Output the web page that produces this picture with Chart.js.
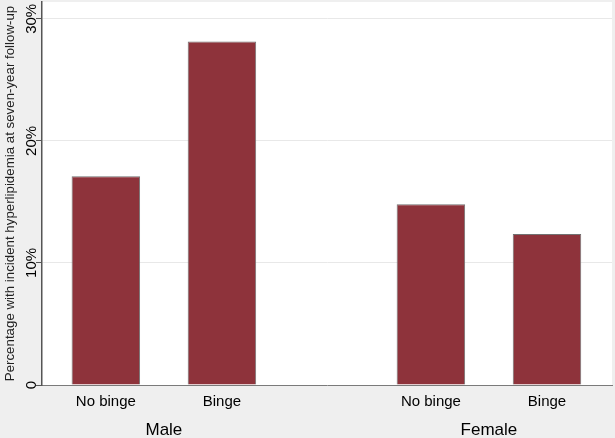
<!DOCTYPE html>
<html>
<head>
<meta charset="utf-8">
<script src="https://cdn.jsdelivr.net/npm/chart.js@4.4.1/dist/chart.umd.min.js"></script>
<style>
    html, body { margin: 0; padding: 0; background: #efefef; }
    #wrap { width: 615px; height: 438px; }
</style>
</head>
<body>
<div id="wrap"><canvas id="hyperChart" width="615" height="438"></canvas></div>
<script>
// Data
const barLabels = ['No binge', 'Binge', 'No binge', 'Binge'];
const barPositions = [1, 2, 3.8, 4.8];
const percentValues = [17.1, 28.15, 14.8, 12.37];
const groupLabels = ['Male', 'Female'];
const groupPositions = [1.5, 4.3];
const yTickValues = [0, 10, 20, 30];
const yTickLabels = ['0', '10%', '20%', '30%'];

const X_MIN = 0.45, X_MAX = 5.36;

// white plot region on a grey page, like the Stata graph
const plotBackground = {
    id: 'plotBackground',
    beforeDraw(chart) {
        const { ctx, chartArea: a } = chart;
        ctx.save();
        ctx.fillStyle = '#ffffff';
        ctx.fillRect(a.left, a.top, a.right - a.left, a.bottom - a.top);
        ctx.restore();
    }
};

const ctx = document.getElementById('hyperChart').getContext('2d');

new Chart(ctx, {
    type: 'bar',
    data: {
        datasets: [{
            data: barPositions.map((x, i) => ({ x: x, y: percentValues[i] })),
            backgroundColor: '#8e333b',
            borderColor: '#727272',
            borderWidth: 1,
            categoryPercentage: 1,
            barPercentage: 0.59
        }]
    },
    options: {
        responsive: false,
        animation: false,
        layout: { padding: { top: 2, right: 3, left: 0, bottom: 0 } },
        plugins: {
            legend: { display: false },
            tooltip: { enabled: false }
        },
        scales: {
            x: {
                type: 'linear',
                position: 'bottom',
                offset: false,
                weight: 0,
                min: X_MIN,
                max: X_MAX,
                afterBuildTicks: (scale) => { scale.ticks = barPositions.map(v => ({ value: v })); },
                afterFit: (scale) => { scale.height = 29; },
                grid: { display: false, drawTicks: false },
                border: { display: true, color: '#7a7a7a', width: 1 },
                ticks: {
                    autoSkip: false,
                    maxRotation: 0,
                    padding: 8,
                    color: '#000',
                    font: { family: 'Liberation Sans', size: 15 },
                    callback: (v, i) => barLabels[i]
                }
            },
            group: {
                type: 'linear',
                axis: 'x',
                position: 'bottom',
                offset: false,
                weight: 1,
                min: X_MIN,
                max: X_MAX,
                afterBuildTicks: (scale) => { scale.ticks = groupPositions.map(v => ({ value: v })); },
                afterFit: (scale) => { scale.height = 24; },
                grid: { display: false, drawTicks: false },
                border: { display: false },
                ticks: {
                    autoSkip: false,
                    maxRotation: 0,
                    padding: 6,
                    color: '#000',
                    font: { family: 'Liberation Sans', size: 17 },
                    callback: (v, i) => groupLabels[i]
                }
            },
            y: {
                min: 0,
                max: 31.38,
                afterBuildTicks: (scale) => { scale.ticks = yTickValues.map(v => ({ value: v })); },
                afterFit: (scale) => { scale.width = 42; },
                grid: {
                    color: (c) => c.index === 0 ? 'rgba(0,0,0,0)' : '#e8e8e8',
                    tickColor: '#555',
                    tickLength: 6,
                    lineWidth: 1
                },
                border: { display: true, color: '#555', width: 1.5 },
                ticks: {
                    minRotation: 90,
                    maxRotation: 90,
                    crossAlign: 'center',
                    padding: -11,
                    color: '#000',
                    font: { family: 'Liberation Sans', size: 15 },
                    callback: (v, i) => yTickLabels[i]
                },
                title: {
                    display: true,
                    text: 'Percentage with incident hyperlipidemia at seven-year follow-up',
                    color: '#222',
                    font: { family: 'Liberation Sans', size: 13.3 },
                    padding: { top: 2, bottom: 0 }
                }
            }
        }
    },
    plugins: [plotBackground]
});
</script>
</body>
</html>
